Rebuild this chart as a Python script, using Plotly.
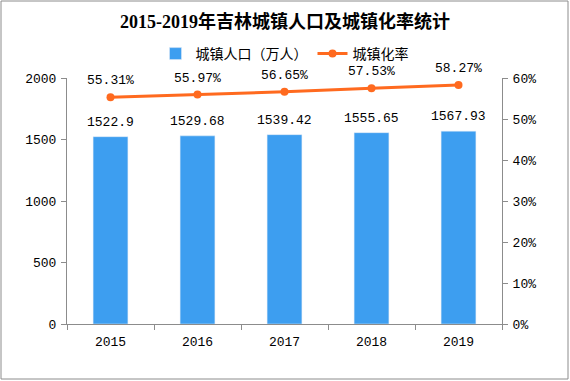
import plotly.graph_objects as go

years = ["2015", "2016", "2017", "2018", "2019"]
pop = [1522.9, 1529.68, 1539.42, 1555.65, 1567.93]
pop_labels = ["1522.9", "1529.68", "1539.42", "1555.65", "1567.93"]
rate = [0.5531, 0.5597, 0.5665, 0.5753, 0.5827]
rate_labels = ["55.31%", "55.97%", "56.65%", "57.53%", "58.27%"]

BAR = "#3d9ef0"
LINE = "#ff6a1f"
AX = "#8c8c8c"
NUMFONT = "Liberation Mono, DejaVu Sans Mono, monospace"
CJK = "Noto Sans CJK SC"

fig = go.Figure()
fig.add_trace(go.Bar(
    x=years, y=pop, name="城镇人口（万人）", marker_color=BAR, width=0.4,
    yaxis="y", hoverinfo="skip",
))
fig.add_trace(go.Scatter(
    x=years, y=rate, name="城镇化率", mode="lines+markers",
    line=dict(color=LINE, width=3), marker=dict(color=LINE, size=8),
    yaxis="y2", cliponaxis=False,
))

annotations = []
for i, (v, lab) in enumerate(zip(pop, pop_labels)):
    annotations.append(dict(
        x=i, y=v, xref="x", yref="y", text=lab, showarrow=False,
        yanchor="bottom", yshift=5,
        font=dict(family=NUMFONT, size=13, color="#000"),
    ))
for i, (v, lab) in enumerate(zip(rate, rate_labels)):
    annotations.append(dict(
        x=i, y=v, xref="x", yref="y2", text=lab, showarrow=False,
        yanchor="bottom", yshift=7,
        font=dict(family=NUMFONT, size=13, color="#000"),
    ))

W, H = 570, 381
L, R, T, B = 67, 68, 78, 57
pw, ph = W - L - R, H - T - B

def px2paper_x(p):
    return (p - L) / pw

def px2paper_y(p):
    return (H - B - p) / ph

tickfont = dict(family=NUMFONT, size=13, color="#000")

fig.update_layout(
    width=W, height=H,
    margin=dict(l=L, r=R, t=T, b=B),
    paper_bgcolor="white", plot_bgcolor="white",
    title=dict(
        text="<b>2015-2019年吉林城镇人口及城镇化率统计</b>",
        x=0.5, xanchor="center", y=1 - 22 / H, yanchor="middle",
        font=dict(family="Liberation Serif, " + CJK, size=18, color="#000"),
    ),
    legend=dict(
        orientation="h", x=0.5, xanchor="center", y=px2paper_y(54), yanchor="middle",
        font=dict(family=CJK, size=14, color="#000"),
        itemwidth=30, bgcolor="rgba(0,0,0,0)",
    ),
    xaxis=dict(
        type="category", range=[-0.5, 4.5], showline=True, linecolor=AX, linewidth=1,
        ticks="outside", tickson="boundaries", ticklen=5, tickcolor=AX,
        tickfont=tickfont, tickangle=0, ticklabelstandoff=5,
        showgrid=False, zeroline=False, fixedrange=True,
    ),
    yaxis=dict(
        range=[0, 2000], dtick=500, showline=True, linecolor=AX, linewidth=1,
        ticks="outside", ticklen=5, tickcolor=AX, tickfont=tickfont,
        ticklabelstandoff=2, showgrid=False, zeroline=False,
    ),
    yaxis2=dict(
        range=[0, 0.6], dtick=0.1, tickformat=".0%", overlaying="y", side="right",
        showline=True, linecolor=AX, linewidth=1,
        ticks="outside", ticklen=5, tickcolor=AX, tickfont=tickfont,
        ticklabelstandoff=2, showgrid=False, zeroline=False,
    ),
    annotations=annotations,
    shapes=[dict(
        type="rect", xref="paper", yref="paper",
        x0=px2paper_x(1), x1=px2paper_x(568), y0=px2paper_y(379), y1=px2paper_y(1),
        line=dict(color=AX, width=1), fillcolor="rgba(0,0,0,0)", layer="below",
    )],
)

fig.write_html(
    "out.html",
    config={"displayModeBar": False},
    post_script="document.body.style.margin='0';",
)
